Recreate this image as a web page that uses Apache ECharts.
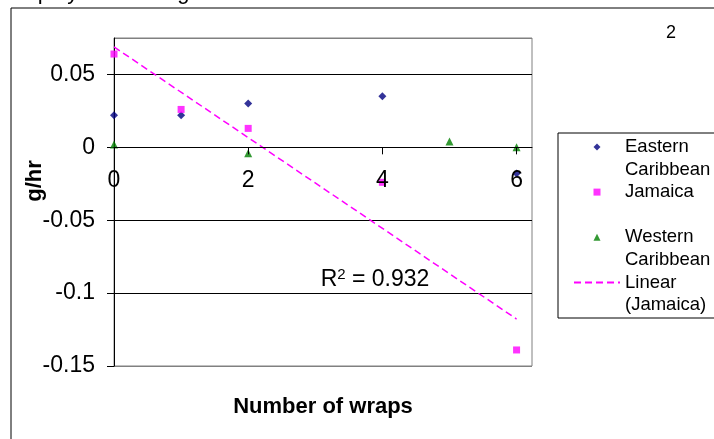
<!DOCTYPE html>
<html>
<head>
<meta charset="utf-8">
<script src="https://cdn.jsdelivr.net/npm/echarts@6/dist/echarts.min.js"></script>
<style>
  html, body { margin: 0; padding: 0; background: #fff; }
  #chart { width: 714px; height: 439px; }
</style>
</head>
<body>
<div id="chart"></div>
<script>
// Mass change per hour against number of wraps, by origin group
const easternWraps = [0, 1, 2, 4, 6];
const easternRate  = [0.022, 0.022, 0.030, 0.035, -0.018];

const jamaicaWraps = [0, 1, 2, 4, 6];
const jamaicaRate  = [0.064, 0.026, 0.013, -0.024, -0.139];

const westernWraps = [0, 2, 5, 6];
const westernRate  = [0.002, -0.004, 0.004, 0];

const xTicks = [0, 2, 4, 6];
const yMin = -0.15, yMax = 0.075, yStep = 0.05;

const seriesNames = ['Eastern Caribbean', 'Jamaica', 'Western Caribbean', 'Linear (Jamaica)'];
const legendLines = {
  'Eastern Caribbean': 'Eastern\nCaribbean',
  'Jamaica': 'Jamaica\n',
  'Western Caribbean': 'Western\nCaribbean',
  'Linear (Jamaica)': 'Linear\n(Jamaica)'
};

const FONT = '"Liberation Sans", Arial, sans-serif';

function pairs(xs, ys) { return xs.map((x, i) => [x, ys[i]]); }

// Least-squares fit for the Jamaica trend line and its R²
function linearFit(xs, ys) {
  const n = xs.length;
  const mx = xs.reduce((a, b) => a + b, 0) / n;
  const my = ys.reduce((a, b) => a + b, 0) / n;
  let sxx = 0, sxy = 0, syy = 0;
  for (let i = 0; i < n; i++) {
    sxx += (xs[i] - mx) * (xs[i] - mx);
    sxy += (xs[i] - mx) * (ys[i] - my);
    syy += (ys[i] - my) * (ys[i] - my);
  }
  const slope = sxy / sxx;
  const intercept = my - slope * mx;
  return { slope, intercept, r2: (sxy * sxy) / (sxx * syy) };
}
const fit = linearFit(jamaicaWraps, jamaicaRate);
const xFirst = Math.min(...jamaicaWraps), xLast = Math.max(...jamaicaWraps);
const trendData = [
  [xFirst, fit.intercept + fit.slope * xFirst],
  [xLast, fit.intercept + fit.slope * xLast]
];

const chart = echarts.init(document.getElementById('chart'), null, { renderer: 'canvas' });

chart.setOption({
  animation: false,
  backgroundColor: '#fff',
  textStyle: { fontFamily: FONT },
  grid: {
    left: 114, top: 38, right: 182, bottom: 73,
    show: true, borderColor: '#808080', borderWidth: 1
  },
  xAxis: {
    type: 'value', min: 0, max: 6.23, interval: 2, z: 3,
    axisLine: { onZero: false, lineStyle: { color: '#000', width: 1 } },
    axisTick: { show: true, inside: false, length: 7, customValues: xTicks, lineStyle: { color: '#000' } },
    axisLabel: { customValues: xTicks, margin: 22, fontSize: 23, color: '#000', fontFamily: FONT },
    splitLine: { show: false }
  },
  yAxis: {
    type: 'value', min: yMin, max: yMax, interval: yStep,
    axisLine: { show: true, onZero: false, lineStyle: { color: '#000', width: 1 } },
    axisTick: { show: true, inside: false, length: 7, lineStyle: { color: '#000' } },
    axisLabel: { showMaxLabel: false, margin: 19, fontSize: 23, color: '#000', fontFamily: FONT,
      formatter: v => String(Math.round(v * 1000) / 1000) },
    splitLine: { show: true, lineStyle: { color: ['#808080', '#000', '#000', '#000', '#000', '#808080'], width: 1 } }
  },
  legend: {
    orient: 'vertical', left: 573, top: 113, padding: 0,
    itemWidth: 46, itemHeight: 7, itemGap: -22.6,
    selectedMode: false,
    textStyle: { fontSize: 18.5, lineHeight: 22.6, color: '#000', fontFamily: FONT },
    formatter: name => '\n' + legendLines[name],
    data: [
      { name: seriesNames[0], icon: 'path://M1,0L2,1L1,2L0,1Z' },
      { name: seriesNames[1], icon: 'path://M0,0H1V1H0Z' },
      { name: seriesNames[2], icon: 'path://M1,0L2,2L0,2Z' },
      // trend line key: dashed stroke only, no marker
      { name: seriesNames[3], itemStyle: { opacity: 0 } }
    ]
  },
  series: [
    {
      name: seriesNames[3], type: 'line', data: trendData, symbol: 'none', z: 1,
      lineStyle: { color: '#FF00FF', width: 1.5, type: [7, 4] },
      itemStyle: { color: '#FF00FF' }
    },
    {
      name: seriesNames[0], type: 'scatter', data: pairs(easternWraps, easternRate),
      symbol: 'diamond', symbolSize: 8, itemStyle: { color: '#000080' }
    },
    {
      name: seriesNames[1], type: 'scatter', data: pairs(jamaicaWraps, jamaicaRate),
      symbol: 'rect', symbolSize: 7, itemStyle: { color: '#FF00FF' }
    },
    {
      name: seriesNames[2], type: 'scatter', data: pairs(westernWraps, westernRate),
      symbol: 'triangle', symbolSize: 8, itemStyle: { color: '#008000' }
    }
  ],
  graphic: [
    // outer chart frame
    { type: 'rect', shape: { x: 11, y: 8, width: 760, height: 500 },
      style: { fill: 'none', stroke: '#000', lineWidth: 1 }, silent: true },
    // legend frame
    { type: 'rect', shape: { x: 558, y: 133, width: 200, height: 185 },
      style: { fill: 'none', stroke: '#000', lineWidth: 1 }, silent: true },
    // heading above the frame
    { type: 'text', x: 6, y: -18,
      style: { text: 'Display of the range', font: '22px ' + FONT, fill: '#000', verticalAlign: 'top' }, silent: true },
    { type: 'text', x: 671, y: 33,
      style: { text: '2', font: '18px ' + FONT, fill: '#000', align: 'center', verticalAlign: 'middle' }, silent: true },
    { type: 'text', x: 35, y: 181, rotation: Math.PI / 2,
      style: { text: 'g/hr', font: 'bold 22px ' + FONT, fill: '#000', align: 'center', verticalAlign: 'middle' }, silent: true },
    { type: 'text', x: 323, y: 407,
      style: { text: 'Number of wraps', font: 'bold 22px ' + FONT, fill: '#000', align: 'center', verticalAlign: 'middle' }, silent: true },
    { type: 'text', x: 375, y: 280, z: 10,
      style: {
        text: '{r|R}{s|2}{r| = ' + fit.r2.toFixed(3) + '}',
        align: 'center', verticalAlign: 'middle',
        rich: {
          r: { fontSize: 23, fontFamily: FONT, fill: '#000', lineHeight: 26 },
          s: { fontSize: 15, fontFamily: FONT, fill: '#000', verticalAlign: 'top', lineHeight: 26 }
        }
      }, silent: true }
  ]
});

// Lift the category axis (line, ticks, labels) up to the y = 0 line
const zeroPx = chart.convertToPixel({ yAxisIndex: 0 }, 0);
const floorPx = chart.convertToPixel({ yAxisIndex: 0 }, yMin);
chart.setOption({ xAxis: { offset: zeroPx - floorPx } });
</script>
</body>
</html>
